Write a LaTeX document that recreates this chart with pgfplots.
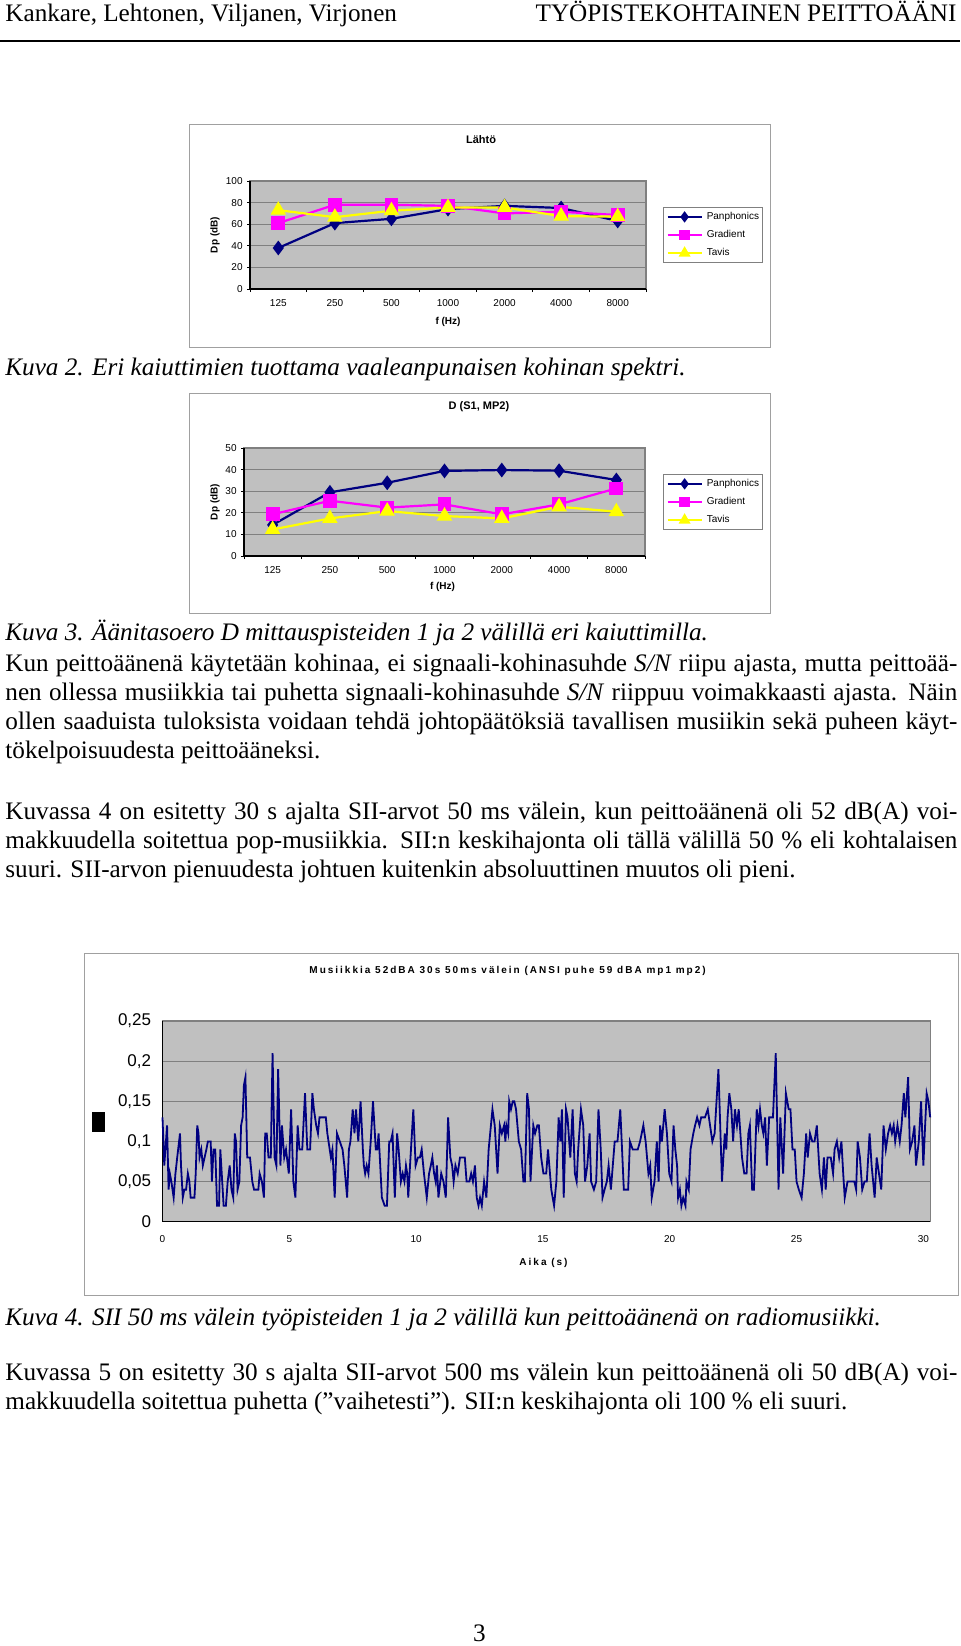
\documentclass[border=0pt]{standalone}
\usepackage{fontspec}
\setmainfont{Liberation Serif}
\newfontfamily\arial{Liberation Sans}
\newfontfamily\arialsp[LetterSpace=20]{Liberation Sans}
\usepackage{pgfplots}
\pgfplotsset{compat=1.18}
\usepackage{pgfplotstable}

\definecolor{plotgray}{HTML}{C0C0C0}
\definecolor{gridgray}{HTML}{808080}
\definecolor{boxgray}{HTML}{A0A0A0}
\definecolor{navy}{HTML}{000080}
\definecolor{magen}{HTML}{FF00FF}
\definecolor{yell}{HTML}{FFFF00}

\newcommand\body{\fontsize{12.6}{14.5}\selectfont}
\newcommand\cf{\arial\fontsize{5}{6}\selectfont}

% Chart 1: Lahto
\pgfplotstableread{
x pan grad tavis
0 38   61   73
1 61   78   66.5
2 65   78   72.5
3 74   77   75.5
4 77   70   75.5
5 75   71.5 67.5
6 63   68.5 67
}\lahto

% Chart 2: D (S1, MP2)
\pgfplotstableread{
x pan grad tavis
0 14.4 19.3 12.3
1 29.5 25.6 17.4
2 33.9 22.4 20.8
3 39.4 23.9 18.5
4 39.8 19.3 17.4
5 39.5 23.9 22.8
6 35.2 31.3 20.5
}\dsmp

% Chart 3: SII every 50 ms
\pgfplotstableread{
t v
0.00 0.13
0.07 0.07
0.18 0.12
0.24 0.04
0.29 0.06
0.35 0.05
0.44 0.03
0.51 0.06
0.58 0.08
0.69 0.11
0.73 0.07
0.80 0.03
0.86 0.04
0.93 0.04
1.00 0.06
1.06 0.05
1.11 0.03
1.26 0.03
1.31 0.06
1.37 0.12
1.42 0.11
1.46 0.08
1.53 0.09
1.59 0.07
1.66 0.08
1.73 0.09
1.79 0.10
1.90 0.10
1.95 0.05
2.01 0.09
2.08 0.09
2.15 0.02
2.23 0.02
2.28 0.09
2.41 0.02
2.50 0.02
2.57 0.05
2.65 0.07
2.72 0.04
2.79 0.03
2.85 0.11
2.90 0.10
2.96 0.04
3.03 0.05
3.10 0.12
3.16 0.13
3.21 0.17
3.27 0.18
3.34 0.08
3.45 0.08
3.54 0.05
3.61 0.04
3.78 0.04
3.83 0.06
3.92 0.05
4.00 0.03
4.05 0.11
4.11 0.11
4.18 0.08
4.27 0.08
4.34 0.21
4.42 0.08
4.49 0.07
4.56 0.19
4.65 0.07
4.71 0.12
4.80 0.08
4.87 0.09
4.98 0.06
5.07 0.14
5.16 0.05
5.24 0.03
5.33 0.12
5.40 0.09
5.51 0.09
5.62 0.16
5.71 0.09
5.82 0.09
5.91 0.16
5.97 0.14
6.06 0.12
6.13 0.11
6.19 0.13
6.44 0.13
6.50 0.11
6.64 0.08
6.70 0.09
6.79 0.03
6.88 0.11
6.99 0.10
7.10 0.09
7.17 0.07
7.28 0.03
7.35 0.09
7.41 0.10
7.50 0.14
7.57 0.11
7.63 0.14
7.72 0.10
7.81 0.15
7.90 0.09
7.94 0.07
7.99 0.06
8.05 0.07
8.12 0.06
8.21 0.10
8.30 0.15
8.41 0.09
8.47 0.09
8.52 0.11
8.65 0.03
8.76 0.02
8.85 0.02
8.94 0.10
9.00 0.10
9.07 0.11
9.16 0.03
9.25 0.11
9.31 0.09
9.40 0.05
9.47 0.06
9.54 0.05
9.60 0.07
9.65 0.06
9.69 0.03
9.76 0.07
9.89 0.14
9.98 0.07
10.07 0.08
10.15 0.08
10.22 0.09
10.31 0.06
10.42 0.03
10.51 0.06
10.58 0.07
10.64 0.08
10.71 0.06
10.77 0.05
10.82 0.07
10.88 0.03
10.99 0.06
11.08 0.05
11.17 0.03
11.26 0.13
11.35 0.08
11.42 0.07
11.48 0.05
11.55 0.07
11.64 0.06
11.73 0.08
11.92 0.08
11.99 0.05
12.10 0.05
12.17 0.06
12.24 0.05
12.32 0.07
12.39 0.03
12.46 0.02
12.52 0.03
12.59 0.02
12.68 0.05
12.77 0.03
12.86 0.09
12.92 0.11
13.01 0.14
13.10 0.12
13.21 0.06
13.30 0.12
13.38 0.11
13.47 0.12
13.52 0.10
13.56 0.12
13.63 0.11
13.67 0.15
13.74 0.14
13.81 0.15
13.87 0.15
13.94 0.14
14.05 0.10
14.14 0.09
14.23 0.05
14.29 0.05
14.38 0.16
14.45 0.14
14.51 0.05
14.62 0.12
14.69 0.11
14.78 0.12
14.84 0.12
14.93 0.08
15.02 0.06
15.13 0.06
15.20 0.09
15.33 0.04
15.44 0.02
15.53 0.05
15.62 0.13
15.69 0.10
15.75 0.14
15.82 0.03
15.91 0.14
15.97 0.13
16.08 0.08
16.17 0.14
16.26 0.06
16.33 0.05
16.39 0.09
16.50 0.14
16.59 0.12
16.66 0.05
16.75 0.07
16.84 0.11
16.90 0.05
17.01 0.04
17.10 0.05
17.19 0.14
17.28 0.09
17.35 0.03
17.43 0.04
17.52 0.05
17.59 0.07
17.68 0.04
17.83 0.10
17.94 0.10
18.05 0.14
18.12 0.09
18.19 0.04
18.36 0.04
18.43 0.10
18.54 0.09
18.74 0.09
18.83 0.10
18.96 0.12
19.05 0.10
19.16 0.06
19.23 0.07
19.29 0.03
19.40 0.05
19.49 0.10
19.56 0.05
19.62 0.12
19.69 0.10
19.80 0.14
19.89 0.11
19.98 0.06
20.07 0.05
20.15 0.12
20.22 0.09
20.29 0.07
20.33 0.03
20.40 0.04
20.46 0.02
20.53 0.03
20.62 0.02
20.66 0.05
20.75 0.04
20.82 0.09
20.93 0.11
21.00 0.12
21.08 0.13
21.17 0.12
21.24 0.13
21.39 0.13
21.50 0.14
21.59 0.12
21.68 0.10
21.77 0.11
21.92 0.19
22.01 0.10
22.06 0.05
22.17 0.11
22.23 0.09
22.28 0.13
22.35 0.16
22.43 0.14
22.50 0.10
22.57 0.14
22.65 0.12
22.72 0.14
22.85 0.08
22.94 0.06
23.03 0.06
23.10 0.11
23.16 0.12
23.25 0.04
23.32 0.04
23.43 0.14
23.50 0.12
23.56 0.14
23.63 0.12
23.69 0.11
23.76 0.13
23.83 0.07
23.92 0.13
24.07 0.13
24.18 0.21
24.29 0.04
24.36 0.13
24.47 0.06
24.58 0.16
24.69 0.14
24.76 0.14
24.84 0.09
24.93 0.09
25.00 0.05
25.09 0.04
25.20 0.03
25.29 0.06
25.38 0.11
25.44 0.08
25.53 0.11
25.62 0.10
25.71 0.10
25.80 0.12
25.91 0.06
26.00 0.04
26.08 0.08
26.15 0.04
26.22 0.08
26.35 0.08
26.44 0.06
26.50 0.09
26.59 0.10
26.68 0.08
26.77 0.10
26.84 0.06
26.90 0.03
27.01 0.05
27.28 0.05
27.35 0.04
27.41 0.10
27.50 0.08
27.59 0.04
27.68 0.05
27.77 0.05
27.88 0.11
27.96 0.07
28.08 0.03
28.16 0.08
28.25 0.06
28.34 0.04
28.43 0.12
28.52 0.09
28.61 0.11
28.69 0.12
28.76 0.11
28.83 0.12
28.89 0.10
28.98 0.12
29.07 0.10
29.14 0.12
29.23 0.16
29.29 0.13
29.40 0.18
29.47 0.09
29.56 0.10
29.65 0.12
29.71 0.07
29.82 0.10
29.91 0.15
30.00 0.07
30.07 0.12
30.13 0.16
30.20 0.15
30.27 0.13
}\siidata

\pgfplotsset{
  freq/.style={
    scale only axis, anchor=south west, clip=false,
    /pgf/number format/assume math mode=true,
    xmin=-0.5, xmax=6.5, xtick={0,...,6},
    xticklabels={125,250,500,1000,2000,4000,8000},
    minor xtick={-0.5,0.5,...,6.5},
    axis lines=left, axis line style={-, draw=black, line width=0.6pt},
    axis background/.style={fill=plotgray, draw=gridgray, line width=0.6pt},
    ymajorgrids, grid style={draw=gridgray, line width=0.5pt},
    tick align=outside, major tick length=0pt, minor tick length=1.5pt,
    tick style={draw=black, line width=0.4pt},
    ticklabel style={font=\cf, inner sep=0pt},
    xticklabel style={anchor=center, yshift=-7pt},
    yticklabel style={anchor=east, xshift=-3.5pt},
    legend cell align=left,
    legend image post style={every mark/.append style={scale=0.7}},
    legend style={anchor=west, draw=gridgray, line width=0.4pt, fill=white,
      font=\cf, inner xsep=1.5pt, inner ysep=2.25pt, row sep=4.5pt,
      nodes={inner sep=0pt, text height=3.6pt, text depth=0.9pt, anchor=west},
      /tikz/every odd column/.append style={column sep=2pt}},
  },
  pan/.style={draw=navy, line width=1.1pt, mark=diamond*, mark size=2.8pt, mark options={fill=navy, draw=navy}},
  grad/.style={draw=magen, line width=1.1pt, mark=square*, mark size=2.9pt, mark options={fill=magen, draw=magen}},
  tav/.style={draw=yell, line width=1.1pt, mark=triangle*, mark size=3.4pt, mark options={fill=yell, draw=yell}},
}

\begin{document}
\begin{tikzpicture}
\useasboundingbox (0pt,0pt) rectangle (480pt,-823pt);

% header
\node[anchor=base west, inner sep=0pt] at (2.5pt,-10.5pt) {\body Kankare, Lehtonen, Viljanen, Virjonen};
\node[anchor=base east, inner sep=0pt] at (478.5pt,-10.5pt) {\body TYÖPISTEKOHTAINEN PEITTOÄÄNI};
\draw[line width=1.1pt] (0pt,-20.5pt) -- (480pt,-20.5pt);

% ---------------- Chart 1 ----------------
\draw[boxgray, line width=0.5pt] (94.5pt,-62pt) rectangle (385pt,-173.5pt);
\node[font=\arial\bfseries\fontsize{5.5}{6}\selectfont, inner sep=0pt] at (240.5pt,-70pt) {Lähtö};
\begin{axis}[freq, at={(125pt,-144.5pt)}, width=198pt, height=54pt,
  ymin=0, ymax=100, ytick={0,20,...,100}, minor ytick={0,20,...,100},
  legend style={at={(1.043,0.5)}}]
\addplot[pan] table[x=x, y=pan] {\lahto};
\addplot[grad] table[x=x, y=grad] {\lahto};
\addplot[tav] table[x=x, y=tavis] {\lahto};
\legend{Panphonics,Gradient,Tavis}
\end{axis}
\node[rotate=90, font=\arial\bfseries\fontsize{5}{6}\selectfont, inner sep=0pt] at (107.5pt,-117.5pt) {Dp (dB)};
\node[font=\arial\bfseries\fontsize{5}{6}\selectfont, inner sep=0pt] at (224pt,-161pt) {f (Hz)};

\node[anchor=base west, inner sep=0pt] at (2.5pt,-187.5pt) {\body\itshape Kuva 2. Eri kaiuttimien tuottama vaaleanpunaisen kohinan spektri.};

% ---------------- Chart 2 ----------------
\draw[boxgray, line width=0.5pt] (94.5pt,-196.5pt) rectangle (385pt,-306.5pt);
\node[font=\arial\bfseries\fontsize{5.5}{6}\selectfont, inner sep=0pt] at (239.5pt,-203.5pt) {D (S1, MP2)};
\begin{axis}[freq, at={(122pt,-278pt)}, width=200.5pt, height=54pt,
  ymin=0, ymax=50, ytick={0,10,...,50}, minor ytick={0,10,...,50},
  legend style={at={(1.045,0.5)}}]
\addplot[pan] table[x=x, y=pan] {\dsmp};
\addplot[grad] table[x=x, y=grad] {\dsmp};
\addplot[tav] table[x=x, y=tavis] {\dsmp};
\legend{Panphonics,Gradient,Tavis}
\end{axis}
\node[rotate=90, font=\arial\bfseries\fontsize{5}{6}\selectfont, inner sep=0pt] at (107.5pt,-251pt) {Dp (dB)};
\node[font=\arial\bfseries\fontsize{5}{6}\selectfont, inner sep=0pt] at (221.25pt,-293.5pt) {f (Hz)};

\node[anchor=base west, inner sep=0pt] at (2.5pt,-320pt) {\body\itshape Kuva 3. Äänitasoero D mittauspisteiden 1 ja 2 välillä eri kaiuttimilla.};

% ---------------- Text ----------------
\node[anchor=base west, inner sep=0pt] at (2.5pt,-335.5pt) {\body\makebox[476pt][s]{Kun peittoäänenä käytetään kohinaa, ei signaali-kohinasuhde \textit{S/N} riipu ajasta, mutta peittoää-}};
\node[anchor=base west, inner sep=0pt] at (2.5pt,-350pt) {\body\makebox[476pt][s]{nen ollessa musiikkia tai puhetta signaali-kohinasuhde \textit{S/N} riippuu voimakkaasti ajasta. Näin}};
\node[anchor=base west, inner sep=0pt] at (2.5pt,-364.5pt) {\body\makebox[476pt][s]{ollen saaduista tuloksista voidaan tehdä johtopäätöksiä tavallisen musiikin sekä puheen käyt-}};
\node[anchor=base west, inner sep=0pt] at (2.5pt,-379pt) {\body tökelpoisuudesta peittoääneksi.};

\node[anchor=base west, inner sep=0pt] at (2.5pt,-409.5pt) {\body\makebox[476pt][s]{Kuvassa 4 on esitetty 30 s ajalta SII-arvot 50 ms välein, kun peittoäänenä oli 52 dB(A) voi-}};
\node[anchor=base west, inner sep=0pt] at (2.5pt,-424pt) {\body\makebox[476pt][s]{makkuudella soitettua pop-musiikkia. SII:n keskihajonta oli tällä välillä 50 \% eli kohtalaisen}};
\node[anchor=base west, inner sep=0pt] at (2.5pt,-438.5pt) {\body suuri. SII-arvon pienuudesta johtuen kuitenkin absoluuttinen muutos oli pieni.};

% ---------------- Chart 3 ----------------
\draw[boxgray, line width=0.5pt] (42.25pt,-476.5pt) rectangle (479pt,-647.5pt);
\node[font=\arialsp\bfseries\fontsize{5}{6}\selectfont, inner sep=0pt] at (253.8pt,-485.5pt) {Musiikkia 52dBA 30s 50ms välein (ANSI puhe 59 dBA mp1 mp2)};
\begin{axis}[at={(81.25pt,-610.85pt)}, anchor=south west, scale only axis,
  width=383.85pt, height=100.35pt,
  /pgf/number format/assume math mode=true,
  xmin=0, xmax=30.27, ymin=0, ymax=0.25,
  xtick={0,5,...,30},
  ytick={0,0.05,0.1,0.15,0.2,0.25},
  yticklabels={0,{0,05},{0,1},{0,15},{0,2},{0,25}},
  axis lines=left, axis line style={-, draw=black, line width=0.7pt},
  axis background/.style={fill=plotgray, draw=gridgray, line width=0.6pt},
  ymajorgrids, grid style={draw=gridgray, line width=0.5pt},
  major tick length=0pt,
  xticklabel style={font=\cf, inner sep=0pt, anchor=center, yshift=-8.65pt},
  yticklabel style={font=\arial\fontsize{8.5}{9}\selectfont, inner sep=0pt, anchor=east, xshift=-5.5pt},
  clip=false]
\addplot[draw=navy, line width=0.9pt, no marks] table[x=t, y=v] {\siidata};
\end{axis}
\fill[black] (46.2pt,-555.85pt) rectangle (52.7pt,-566pt);
\node[font=\arialsp\bfseries\fontsize{5}{6}\selectfont, inner sep=0pt] at (271.75pt,-631.5pt) {Aika (s)};

\node[anchor=base west, inner sep=0pt] at (2.5pt,-662.5pt) {\body\itshape Kuva 4. SII 50 ms välein työpisteiden 1 ja 2 välillä kun peittoäänenä on radiomusiikki.};

\node[anchor=base west, inner sep=0pt] at (2.5pt,-690pt) {\body\makebox[476pt][s]{Kuvassa 5 on esitetty 30 s ajalta SII-arvot 500 ms välein kun peittoäänenä oli 50 dB(A) voi-}};
\node[anchor=base west, inner sep=0pt] at (2.5pt,-704.5pt) {\body makkuudella soitettua puhetta (”vaihetesti”). SII:n keskihajonta oli 100 \% eli suuri.};

\node[anchor=base, inner sep=0pt] at (239.75pt,-820.5pt) {\body 3};
\end{tikzpicture}
\end{document}
